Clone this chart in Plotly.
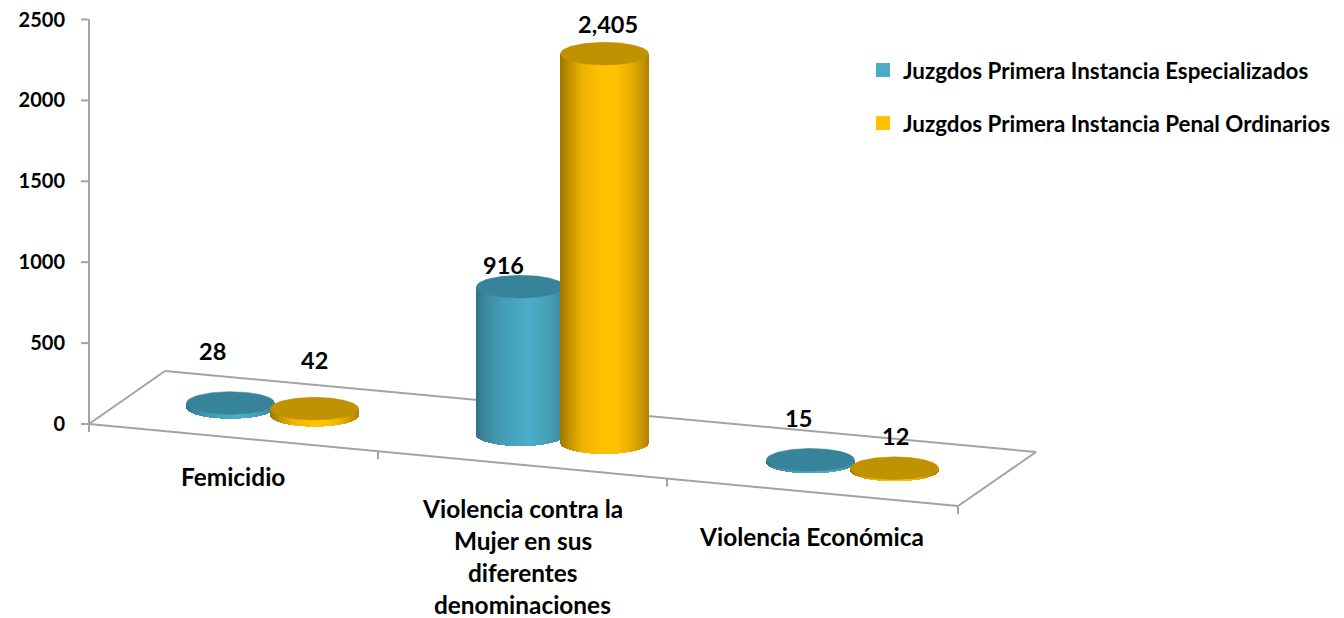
import numpy as np
import plotly.graph_objects as go

# ---- data ----
categories = [["Femicidio"],
              ["Violencia contra la", "Mujer en sus", "diferentes", "denominaciones"],
              ["Violencia Económica"]]
series_names = ["Juzgdos Primera Instancia Especializados",
                "Juzgdos Primera Instancia Penal Ordinarios"]
especializados = [28, 916, 15]
ordinarios = [42, 2405, 12]
label_especializados = ["28", "916", "15"]
label_ordinarios = ["42", "2,405", "12"]
y_ticks = [0, 500, 1000, 1500, 2000, 2500]

# ---- geometry of the oblique 3D projection (pixels) ----
W, H = 1344, 618
ZERO_PX = 424.0
PX_PER_UNIT = 0.1618
LEFT = 70
GROUP_X = [272.5, 562.5, 852.5]
CYL_OFFSET = 42.0
A, B = 44.0, 11.3
FLOOR = [(89, 424), (165, 371), (1036, 452), (958, 506), (89, 424)]
FRONT_SLOPE = (506 - 424) / (958 - 89)


def v(py):
    return (ZERO_PX - py) / PX_PER_UNIT


def base_px(x):
    return 407.5 + (x - 230.5) * 0.0943


GREY = "#a3a3a3"
BLUE_STOPS = ([0, .08, .3, .6, .8, .93, 1],
              [[48, 114, 134], [58, 134, 156], [68, 158, 182], [75, 174, 204],
               [70, 162, 186], [62, 146, 168], [56, 132, 152]])
GOLD_STOPS = ([0, .08, .25, .45, .65, .8, .93, 1],
              [[160, 120, 0], [186, 140, 0], [238, 179, 0], [255, 192, 0],
               [255, 194, 0], [232, 175, 0], [200, 150, 0], [176, 132, 0]])


def ramp(u, stops):
    pos, cols = stops
    cols = np.array(cols, float)
    return ["rgb(%d,%d,%d)" % tuple(np.interp(t, pos, cols[:, i]) for i in range(3)) for t in u]


def cylinders(values, offset, stops, top_color, xa, ya):
    traces = []
    for g, val in zip(GROUP_X, values):
        cx = g + offset
        xs = np.arange(cx - A + 0.5, cx + A, 1.0)
        t = (xs - cx) / A
        sag = B * np.sqrt(1 - t ** 2)
        bottom = v(base_px(cx) + sag)
        top = v(base_px(cx)) + val
        traces.append(go.Bar(x=xs, y=top - bottom, base=bottom, width=1.4,
                             marker=dict(color=ramp((t + 1) / 2, stops), line_width=0),
                             showlegend=False, hoverinfo="skip", xaxis=xa, yaxis=ya))
        th = np.linspace(0, 2 * np.pi, 121)
        traces.append(go.Scatter(x=cx + A * np.cos(th),
                                 y=top + B * np.sin(th) / PX_PER_UNIT,
                                 mode="lines", fill="toself", fillcolor=top_color,
                                 line=dict(color=top_color, width=0.5),
                                 showlegend=False, hoverinfo="skip", xaxis=xa, yaxis=ya))
    return traces


fig = go.Figure()
for tr in cylinders(especializados, -CYL_OFFSET, BLUE_STOPS, "#37839a", "x", "y"):
    fig.add_trace(tr)
for tr in cylinders(ordinarios, CYL_OFFSET, GOLD_STOPS, "#c09100", "x2", "y2"):
    fig.add_trace(tr)

for name, col in zip(series_names, ["#4bacc6", "#ffc000"]):
    fig.add_trace(go.Scatter(x=[None], y=[None], mode="markers", name="<b>%s</b>" % name, legendgroup=name,
                             marker=dict(symbol="square", size=14, color=col)))

shapes = []


def seg(x0, y0, x1, y1):
    shapes.append(dict(type="line", xref="x", yref="y", layer="below",
                       x0=x0, x1=x1, y0=y0, y1=y1, line=dict(color=GREY, width=2)))


seg(89, 0, 89, max(y_ticks))
for tv in y_ticks:
    seg(81, tv, 89, tv)
for (x0, y0), (x1, y1) in zip(FLOOR[:-1], FLOOR[1:]):
    seg(x0, v(y0), x1, v(y1))
for xt in [89, 378, 667, 958]:
    py = 424 + (xt - 89) * FRONT_SLOPE
    seg(xt, v(py), xt, v(py + 8))

ann = []
FONT = "Lato"
# data labels: anchored to the value, nudged in pixels
label_nudge_b = [(-18, 52), (-17, 22), (-12, 42)]
label_nudge_o = [(0, 49), (3, 30), (1, 32)]
for vals, labs, off, nudge in [(especializados, label_especializados, -CYL_OFFSET, label_nudge_b),
                               (ordinarios, label_ordinarios, CYL_OFFSET, label_nudge_o)]:
    for g, val, lab, (dx, dy) in zip(GROUP_X, vals, labs, nudge):
        cx = g + off
        ann.append(dict(x=cx, y=v(base_px(cx)) + val, text="<b>%s</b>" % lab, showarrow=False,
                        xshift=dx, yshift=dy, font=dict(family=FONT, size=23.5, color="black"),
                        xanchor="center", yanchor="middle"))

cat_x = [232.5, 522.5, 811]
cat_y = [475.5, 507.5, 535.5]
LINE = 32.0
for lines, cx, cy in zip(categories, cat_x, cat_y):
    for i, line in enumerate(lines):
        ann.append(dict(x=cx, y=v(cy + i * LINE), text="<b>%s</b>" % line, showarrow=False,
                        font=dict(family=FONT, size=24.4, color="black"), height=28,
                        xanchor="center", yanchor="middle"))

xr = [LEFT, W]
yr = [v(H), v(0)]
fig.update_layout(
    width=W, height=H, margin=dict(l=LEFT, r=0, t=0, b=0),
    paper_bgcolor="white", plot_bgcolor="white", barmode="overlay", bargap=0,
    font=dict(family=FONT, color="black"),
    shapes=shapes, annotations=ann,
    xaxis=dict(range=xr, visible=False, fixedrange=True),
    xaxis2=dict(range=xr, visible=False, overlaying="x", fixedrange=True),
    yaxis=dict(range=yr, showgrid=False, zeroline=False, showline=False, ticks="",
               tickvals=y_ticks, ticktext=["<b>%d</b>" % t for t in y_ticks],
               tickfont=dict(family=FONT, size=20, color="black"), ticklabelstandoff=4, fixedrange=True),
    yaxis2=dict(range=yr, visible=False, overlaying="y", fixedrange=True),
    legend=dict(x=(863 - LEFT) / (W - LEFT), xanchor="left", y=1 - 49 / H, yanchor="top",
                font=dict(family=FONT, size=22.35, color="black"), tracegroupgap=21,
                bgcolor="rgba(0,0,0,0)", itemclick=False, itemdoubleclick=False),
    showlegend=True,
)
fig.write_html("out.html", post_script="document.body.style.margin='0';",
               config=dict(displayModeBar=False))
